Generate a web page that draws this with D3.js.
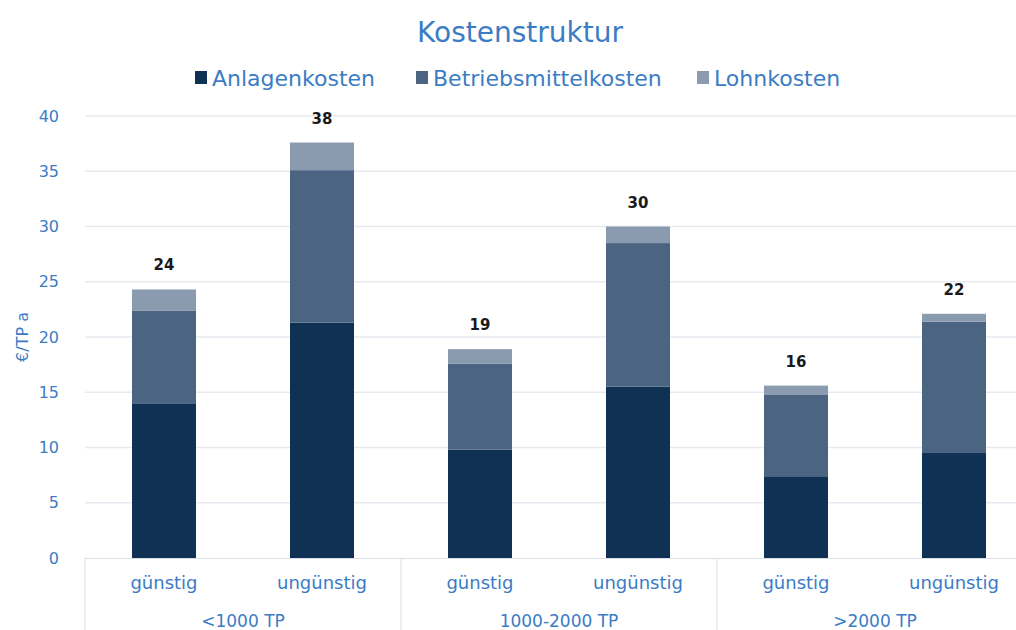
<!DOCTYPE html>
<html>
<head>
<meta charset="utf-8">
<script src="https://cdn.jsdelivr.net/npm/d3@7"></script>
<style>
  body { margin: 0; background: #fff; }
  text { font-family: "DejaVu Sans", Verdana, sans-serif; }
</style>
</head>
<body>
<svg width="1016" height="630"></svg>
<script>
var groups = ["<1000 TP", "1000-2000 TP", ">2000 TP"];
var cases = ["günstig", "ungünstig"];
var seriesNames = ["Anlagenkosten", "Betriebsmittelkosten", "Lohnkosten"];
var anlagen = [14.0, 21.3, 9.8, 15.5, 7.4, 9.5];
var betrieb = [8.4, 13.8, 7.8, 13.0, 7.35, 11.9];
var lohn = [1.9, 2.5, 1.3, 1.5, 0.85, 0.7];
var totals = [24, 38, 19, 30, 16, 22];
var yTicks = [0, 5, 10, 15, 20, 25, 30, 35, 40];

var colors = ["#0f3153", "#4a6482", "#8a9bb0"];
var blue = "#3b7cc4";

var svg = d3.select("svg");
var plotLeft = 85, plotRight = 1033, plotTop = 116, plotBottom = 558;

var rows = anlagen.map(function(v, i) {
  return { key: i, g: groups[Math.floor(i / 2)], c: cases[i % 2],
           Anlagenkosten: v, Betriebsmittelkosten: betrieb[i], Lohnkosten: lohn[i], total: totals[i] };
});

var x = d3.scaleBand().domain(rows.map(function(d) { return d.key; })).range([plotLeft, plotRight]);
var xg = d3.scaleBand().domain(groups).range([plotLeft, plotRight]);
var y = d3.scaleLinear().domain([0, 40]).range([plotBottom, plotTop]);
var barW = 64;

// gridlines
svg.append("g").selectAll("line")
  .data(yTicks.filter(function(t) { return t > 0; }))
  .enter().append("line")
  .attr("x1", plotLeft).attr("x2", 1016)
  .attr("y1", function(d) { return y(d); }).attr("y2", function(d) { return y(d); })
  .attr("stroke", "#e6eaf0").attr("stroke-width", 1.5);

// y tick labels
svg.append("g").selectAll("text")
  .data(yTicks).enter().append("text")
  .attr("x", 59).attr("y", function(d) { return y(d); })
  .attr("dy", "0.35em").attr("text-anchor", "end")
  .attr("font-size", 16).attr("fill", blue)
  .text(function(d) { return d; });

svg.append("text")
  .attr("transform", "translate(22," + y(20) + ") rotate(-90)")
  .attr("text-anchor", "middle").attr("dy", "0.35em")
  .attr("font-size", 16).attr("fill", blue)
  .text("€/TP a");

// stacked bars
var stack = d3.stack().keys(seriesNames)(rows);
svg.append("g").selectAll("g")
  .data(stack).enter().append("g")
  .attr("fill", function(d, i) { return colors[i]; })
  .selectAll("rect")
  .data(function(d) { return d; })
  .enter().append("rect")
  .attr("x", function(d) { return x(d.data.key) + x.bandwidth() / 2 - barW / 2; })
  .attr("width", barW)
  .attr("y", function(d) { return y(d[1]); })
  .attr("height", function(d) { return y(d[0]) - y(d[1]); });

// total labels
svg.append("g").selectAll("text")
  .data(rows).enter().append("text")
  .attr("x", function(d) { return x(d.key) + x.bandwidth() / 2; })
  .attr("y", function(d) {
    var s = d.Anlagenkosten + d.Betriebsmittelkosten + d.Lohnkosten;
    return y(s) - 19;
  })
  .attr("text-anchor", "middle").attr("font-size", 15).attr("font-weight", "bold")
  .attr("fill", "#1a1a1a")
  .text(function(d) { return d.total; });

// x axis
svg.append("line").attr("x1", plotLeft).attr("x2", 1016)
  .attr("y1", plotBottom + 0.5).attr("y2", plotBottom + 0.5)
  .attr("stroke", "#d9dee6").attr("stroke-width", 1);

svg.append("g").selectAll("line")
  .data(groups).enter().append("line")
  .attr("x1", function(d) { return xg(d); })
  .attr("x2", function(d) { return xg(d); })
  .attr("y1", plotBottom).attr("y2", 630)
  .attr("stroke", "#d9dee6").attr("stroke-width", 1);

svg.append("g").selectAll("text")
  .data(rows).enter().append("text")
  .attr("x", function(d) { return x(d.key) + x.bandwidth() / 2; })
  .attr("y", 589).attr("text-anchor", "middle")
  .attr("font-size", 18).attr("fill", blue)
  .text(function(d) { return d.c; });

svg.append("g").selectAll("text")
  .data(groups).enter().append("text")
  .attr("x", function(d) { return xg(d) + xg.bandwidth() / 2; })
  .attr("y", 627).attr("text-anchor", "middle")
  .attr("font-size", 17).attr("fill", blue)
  .text(function(d) { return d; });

// title
svg.append("text").attr("x", 520).attr("y", 42)
  .attr("text-anchor", "middle").attr("font-size", 28)
  .attr("fill", blue).text("Kostenstruktur");

// legend
var legend = svg.append("g");
var lx = [195, 416, 697];
seriesNames.forEach(function(name, i) {
  legend.append("rect").attr("x", lx[i]).attr("y", 71).attr("width", 12).attr("height", 13)
    .attr("fill", colors[i]);
  legend.append("text").attr("x", lx[i] + 17).attr("y", 86)
    .attr("font-size", 22).attr("fill", blue).text(name);
});
</script>
</body>
</html>
